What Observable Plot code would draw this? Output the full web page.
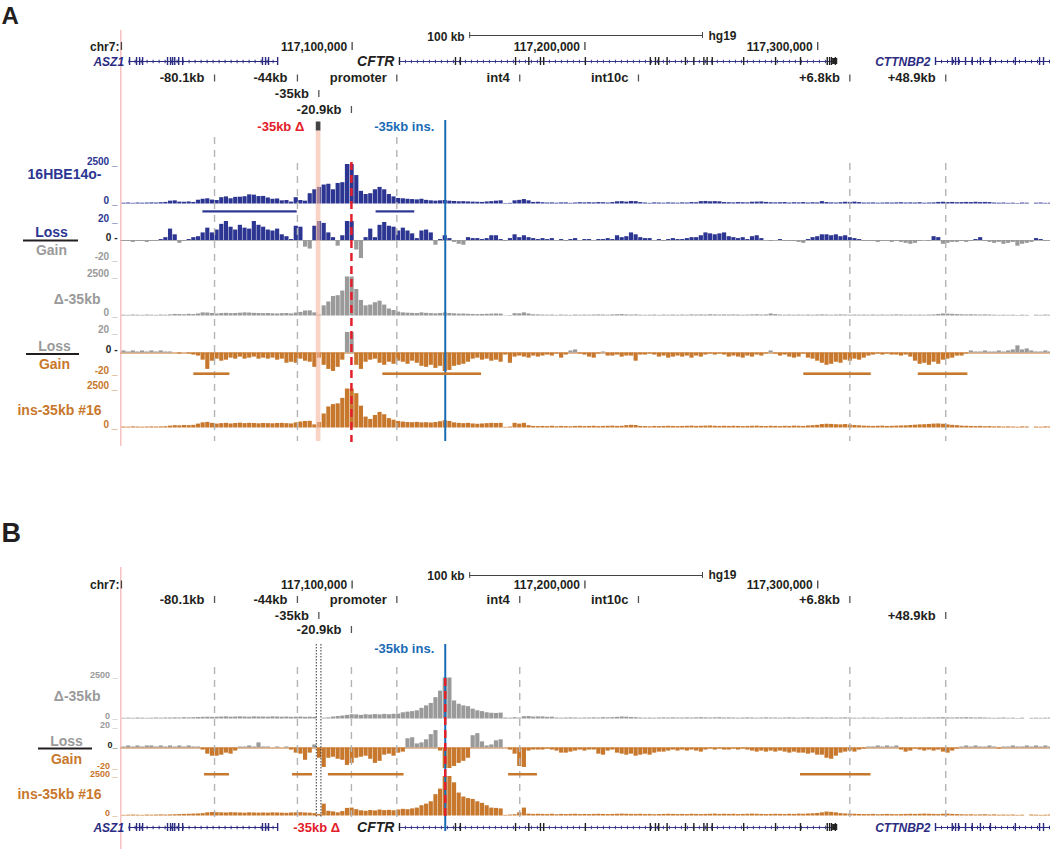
<!DOCTYPE html>
<html><head><meta charset="utf-8">
<script src="https://cdn.jsdelivr.net/npm/d3@7"></script>
<script src="https://cdn.jsdelivr.net/npm/@observablehq/plot@0.6"></script>
<style>
body{margin:0;background:#fff;}
#root{position:relative;width:1050px;height:849px;overflow:hidden;background:#fff;}
#root svg{position:absolute;left:0;}
</style></head><body><div id="root"></div>
<script>
// ---------------- DATA ----------------
const binStartKb = 117001;   // first 2 kb bin (chr7, hg19, in kb)
const binKb = 2;

// Panel A tracks
const hbeSignal = [
50,60,40,60,50,60,70,60,80,100,
180,200,120,110,130,100,240,300,330,250,
220,400,450,330,420,430,460,580,560,470,
480,380,300,320,200,220,120,400,220,180,
650,900,1050,1200,1250,900,1300,1350,2500,2500,
1800,800,600,650,900,1050,900,600,450,350,
330,300,280,260,300,230,200,180,200,220,
180,160,140,150,130,120,110,100,130,150,
180,200,30,40,200,230,280,200,100,110,
80,60,70,50,70,70,40,60,80,70,
80,70,90,80,60,90,140,150,120,160,
150,90,60,40,70,60,50,70,60,50,
70,60,90,80,150,160,140,150,140,90,
80,70,90,80,70,110,120,130,100,80,
70,80,90,60,80,70,90,60,80,70,
150,90,70,60,80,110,100,120,90,60,
60,70,50,60,70,60,70,80,60,70,
60,80,50,60,70,100,110,90,100,80,
90,100,90,110,90,100,90,60,50,60,
40,50,30,60,50,0,50,60,40,50];
const hbeDiff = [
-1,-1,-2,-1,-1,-2,-1,-1,1,3,
12,6,-3,-1,1,3,4,8,13,8,
11,17,20,14,11,16,13,12,20,16,
14,11,10,12,6,4,1,15,14,-7,
-9,15,20,18,8,3,-6,5,20,20,
-10,-19,3,12,3,16,19,15,14,10,
13,10,7,2,10,11,8,-5,1,5,
2,-2,-4,-5,3,2,2,1,2,5,
5,1,-1,2,6,3,5,3,2,1,
2,1,2,0,1,-1,1,2,0,1,
1,0,1,1,2,1,5,3,4,8,
6,3,2,2,0,1,-1,1,2,1,
1,2,3,3,5,8,7,6,7,8,
4,3,2,3,1,4,5,2,0,-1,
0,1,-1,-1,-1,-2,-3,1,3,4,
6,6,5,6,4,5,3,2,1,-1,
-1,-1,-2,-1,-1,-2,-1,-2,-3,-4,
-3,-1,0,-1,4,3,-4,-3,-2,-2,
-1,-2,-1,1,3,-1,-2,-3,-2,-4,
-3,-2,-6,-4,-3,-2,2,1,-1,-1];
const delSignalA = [
50,40,60,50,40,60,50,40,60,50,
70,100,90,80,110,90,130,200,190,160,
130,160,170,150,160,180,200,190,170,160,
150,160,140,130,150,160,130,190,230,320,
330,200,60,650,900,1250,1300,1600,2500,2500,
1700,1000,650,700,850,950,700,450,350,250,
200,180,170,160,200,170,150,140,160,190,
160,140,120,130,110,100,90,100,110,120,
130,120,20,30,150,140,200,130,80,70,
60,50,60,40,60,50,40,60,50,60,
50,60,70,60,50,70,80,90,70,60,
70,50,40,50,60,40,60,50,60,50,
60,50,70,60,70,60,80,70,60,70,
60,70,60,50,60,70,80,60,70,130,
90,60,50,60,50,60,50,60,50,60,
70,60,50,60,70,60,50,60,50,60,
50,60,50,60,50,60,70,60,50,60,
50,60,50,60,70,100,130,120,110,90,
80,70,80,70,60,70,60,50,40,50,
40,50,30,50,40,0,50,40,60,50];
const delDiffA = [
2,1,2,1,2,1,2,1,2,1,
1,0,-1,0,-1,-2,-3,-7,-16,-8,
-6,-8,-7,-5,-6,-4,-6,-5,-4,-6,
-5,-6,-5,-7,-6,-10,-9,-10,-6,-8,
-9,-14,-5,-12,-16,-18,-14,-7,20,20,
-12,-16,-9,-7,-6,-10,-12,-9,-11,-8,
-9,-11,-8,-10,-13,-14,-12,-15,-13,-18,
-17,-13,-12,-11,-9,-6,-5,-7,-6,-8,
-7,-9,-2,-10,-4,-3,-4,-5,-3,-4,
-3,-2,-3,-1,-5,-2,2,3,-1,-2,
-4,-5,-1,1,-3,-3,-2,-4,-3,-3,
-8,-2,-2,-1,-2,-4,-3,-5,-4,-3,
-4,-3,-5,-3,-4,-2,-1,-2,-1,-2,
-4,-3,-4,-5,-3,-4,-2,-3,-1,2,
-1,-3,-2,-4,-5,-4,-1,-5,-6,-8,
-10,-12,-11,-9,-10,-7,-8,-6,-7,-5,
-3,-2,-1,-2,-1,-2,-2,-3,-2,-4,
-8,-11,-10,-12,-9,-11,-7,-6,-5,-3,
-3,-1,2,1,1,2,1,1,2,1,
2,3,7,3,4,2,1,1,2,1];
const insSignalA = [
60,50,70,60,50,60,70,60,70,80,
120,150,140,160,150,170,250,330,360,300,
250,280,300,260,290,310,280,300,290,270,
290,280,270,290,300,280,260,330,380,420,
430,200,350,900,1350,1500,1550,1900,2500,2500,
2200,1400,700,550,800,1000,850,600,500,420,
380,350,340,360,330,340,320,350,400,460,
420,330,300,280,300,260,240,260,280,300,
290,300,40,60,300,250,300,150,100,90,
100,90,110,80,100,90,80,100,110,90,
100,110,90,100,110,120,100,110,150,170,
160,100,90,80,100,90,100,110,100,90,
100,110,120,100,110,120,130,110,100,110,
100,110,100,90,100,110,120,100,90,110,
100,90,110,100,120,110,100,130,150,170,
220,240,230,210,200,220,190,160,140,120,
110,100,110,120,100,110,120,130,140,160,
180,200,210,230,250,260,240,200,170,150,
120,110,100,90,100,80,90,70,80,60,
70,60,50,70,60,0,60,50,70,60];

// Panel B tracks
const delSignalB = [
40,50,40,60,50,40,50,60,50,60,
60,70,60,80,70,80,90,100,110,100,
110,120,130,110,120,130,120,110,130,120,
120,110,130,120,110,120,100,110,120,100,
110,100,0,50,70,120,150,180,220,260,
250,220,260,240,270,250,280,260,290,300,
380,420,450,500,650,800,950,1300,1700,2500,
2500,1100,900,800,750,600,500,450,380,350,
340,360,60,50,80,60,140,150,120,130,
130,100,110,60,50,60,70,60,50,60,
60,70,60,80,70,80,100,120,110,90,
80,60,50,60,50,60,70,60,70,60,
60,70,60,70,80,70,60,70,80,60,
70,60,50,60,70,60,50,60,70,60,
60,50,60,70,60,50,60,70,60,50,
60,70,60,50,60,70,60,50,40,60,
50,60,50,40,60,50,60,70,50,60,
60,50,60,70,60,70,80,70,60,70,
70,80,70,60,70,60,50,40,50,60,
40,50,30,50,0,40,50,40,50,60];
const delDiffB = [
1,2,1,2,1,2,2,1,2,1,
2,1,2,1,2,1,1,-2,-6,-8,
-8,-7,-5,-6,-3,1,1,2,1,5,
1,1,0,1,0,1,-2,-5,-6,-12,
-5,3,-10,-19,-10,-9,-11,-12,-17,-15,
-10,-9,-8,-11,-15,-13,-7,-6,-8,-5,
-4,9,10,4,5,8,13,17,-3,-20,
-20,-18,-15,-13,-10,12,14,6,2,3,
7,8,0,-2,-6,-18,-19,-3,-2,-2,
-2,-1,-2,-3,-5,-5,-4,-3,-2,-3,
-2,-2,-6,-7,-3,-2,-5,-6,-7,-6,
-8,-7,-6,-7,-5,-4,-4,-3,-2,-3,
-2,-3,-2,-3,-4,-2,-1,-2,-1,-2,
-2,-1,-2,-1,-2,-3,-4,-3,-4,-3,
-4,-3,-4,-5,-4,-5,-5,-6,-5,-7,
-7,-10,-11,-8,-5,-4,-3,-4,-2,-1,
1,1,2,1,2,1,2,-2,-4,-3,
-1,-2,-3,-2,-3,-2,-4,-5,-3,-1,
1,2,1,2,1,1,2,1,-1,1,
1,2,1,1,2,1,2,1,2,1];
const insSignalB = [
40,50,60,50,40,60,50,60,70,60,
70,80,90,100,110,120,130,150,200,220,
210,200,190,210,200,190,180,200,190,180,
190,180,200,190,180,170,190,200,210,190,
180,150,100,750,300,260,200,280,480,500,
400,330,300,350,320,380,340,360,330,380,
420,400,450,500,650,750,900,1350,1700,2500,
2500,2100,1450,1200,1100,1050,900,800,650,500,
480,450,40,60,80,200,500,120,100,110,
100,90,110,80,100,90,100,110,90,100,
90,100,110,100,90,100,110,120,110,100,
100,110,90,100,80,90,100,110,100,90,
100,90,110,100,90,100,110,120,100,110,
100,110,90,100,110,120,110,100,90,100,
110,100,90,110,100,120,110,130,140,160,
200,250,230,200,150,130,120,110,100,90,
90,100,80,90,100,90,80,90,100,110,
100,110,120,110,100,90,110,120,100,90,
80,70,80,60,70,80,60,70,50,60,
50,60,40,50,0,60,50,40,50,60];

// Annotations (kb, hg19 chr7)
const elementNames = ["-80.1kb","-44kb","-35kb","-20.9kb","promoter","int4","int10c","+6.8kb","+48.9kb"];
const elementKb = [117040.9,117076.5,117085.7,117099.7,117119.2,117172.0,117223.0,117313.8,117355.0];
const coordTickKb = [117100,117200,117300];
const coordTickLabels = ["117,100,000","117,200,000","117,300,000"];
const chromName = "chr7:";
const scaleBarStartKb = 117150.5;
const scaleBarKb = 100;
const assemblyName = "hg19";
const deletionKb = [117084.6, 117086.6];
const insertionKb = 117140;
const hbeRegionStartKb = [117035.9, 117110.3];
const hbeRegionEndKb = [117076.4, 117126.9];
const insRegionAStartKb = [117032.0, 117113.2, 117294.0, 117343.2];
const insRegionAEndKb = [117047.5, 117155.6, 117323.0, 117364.5];
const insRegionBStartKb = [117036.6, 117074.4, 117089.8, 117167.2, 117292.6];
const insRegionBEndKb = [117047.3, 117083.0, 117122.3, 117179.6, 117322.9];
const geneNames = ["ASZ1","CFTR","CTTNBP2"];
const geneStartKb = [117004.2, 117120.3, 117350.6];
const geneEndKb = [117068.1, 117308.0, 117402];
const asz1ExonKb = [117004.4,117007.4,117008.7,117010.0,117020.7,117022.0,117022.9,117023.8,117025.5,117027.2,117061.5,117062.8,117064.1,117068.0];
const cftrExonKb = [117120.35,117144.4,117146.5,117170.2,117175.9,117180.9,117182.3,117200.2,117228.1,117230.3,117231.7,117235.3,117243.2,117246.8,117251.1,117252.5,117254.7,117268.2,117281.9,117292.6,117304.1,117305.1,117305.9,117307.6];
const cttnbp2ExonKb = [117350.6,117357.8,117359.2,117360.5,117363.5,117366.4,117369.9,117374.2,117384.9,117395.3,117397.0];

// ---------------- STYLE / LAYOUT ----------------
const FONT = "'Liberation Sans', Arial, Helvetica, sans-serif";
const ink = "#231f20", navy = "#2c3591", gray = "#9a9a9a", orange = "#c8782c",
      blue = "#1a6bb6", red = "#e3202a", geneNavy = "#2b2b82", dash = "#b4b4b4";
const X = {domain: [117000.5, 117400], range: [120, 1050]};
const root = document.getElementById("root");
function place(svg, top) { svg.style.top = top + "px"; root.appendChild(svg); }

function track(o) {
  const data = o.values.map((v, i) => ({x1: binStartKb + i * binKb, x2: binStartKb + (i + 1) * binKb, v}));
  const marks = [];
  if (o.zeroLine) marks.push(Plot.ruleY([0], {stroke: o.zeroLine, strokeWidth: 1}));
  marks.push(Plot.rect(data, {x1: "x1", x2: "x2", y1: 0, y2: "v",
    fill: d => d.v >= 0 ? o.pos : o.neg, insetLeft: 0.25, insetRight: 0.25}));
  marks.push(Plot.text(o.ticks, {y: d => d, text: (d, i) => o.tickText[i], fill: (d, i) => o.tickColor[i],
    frameAnchor: "left", textAnchor: "end", dx: -3, lineAnchor: "bottom", fontSize: o.tickFont || 10, fontWeight: "bold"}));
  const svg = Plot.plot({
    width: 1050, height: o.bottom - o.top,
    marginLeft: 120, marginRight: 0, marginTop: 0, marginBottom: 0,
    x: {...X, axis: null},
    y: {domain: o.domain, range: o.range.map(p => p - o.top), axis: null},
    color: {type: "identity"},
    style: {background: "transparent", fontFamily: FONT, overflow: "visible"},
    marks
  });
  place(svg, o.top);
}

// Panel A tracks
track({top: 140, bottom: 207, values: hbeSignal, domain: [0, 2500], range: [203.5, 164], pos: navy, neg: gray,
  ticks: [2500, 0], tickText: ["2500 _", "0 _"], tickColor: [navy, navy]});
track({top: 207, bottom: 264, values: hbeDiff, domain: [-20, 20], range: [259, 221], pos: navy, neg: gray, zeroLine: "#b0b0b0",
  ticks: [20, 0, -20], tickText: ["20 _", "0 -", "-20 _"], tickColor: [navy, ink, gray]});
track({top: 264, bottom: 320, values: delSignalA, domain: [0, 2500], range: [315.5, 276.5], pos: gray, neg: gray,
  ticks: [2500, 0], tickText: ["2500 _", "0 _"], tickColor: [gray, gray]});
track({top: 320, bottom: 380, values: delDiffA, domain: [-20, 20], range: [373, 332], pos: gray, neg: orange, zeroLine: orange,
  ticks: [20, 0, -20], tickText: ["20 _", "0 -", "-20 _"], tickColor: [gray, ink, orange]});
track({top: 380, bottom: 432, values: insSignalA, domain: [0, 2500], range: [427.5, 388.5], pos: orange, neg: orange,
  ticks: [2500, 0], tickText: ["2500 _", "0 _"], tickColor: [orange, orange]});
// Panel B tracks (tighter axis labels, as in the reference)
track({top: 660, bottom: 722, values: delSignalB, domain: [0, 2500], range: [718.5, 677.5], pos: gray, neg: gray, tickFont: 9,
  ticks: [2500, 0], tickText: ["2500 _", "0 _"], tickColor: [gray, gray]});
track({top: 722, bottom: 772, values: delDiffB, domain: [-20, 20], range: [768, 727], pos: gray, neg: orange, zeroLine: orange, tickFont: 9,
  ticks: [20, 0, -20], tickText: ["20 _", "0_", "-20 _"], tickColor: [gray, ink, orange]});
track({top: 770, bottom: 820, values: insSignalB, domain: [0, 2500], range: [815.5, 776], pos: orange, neg: orange, tickFont: 9,
  ticks: [2500, 0], tickText: ["2500 _", "0 _"], tickColor: [orange, orange]});

// ---------------- OVERLAY (headers, annotations, vertical guides) ----------------
const txt = (extra) => ({lineAnchor: "bottom", fontWeight: "bold", fontSize: 13, fill: ink, ...extra});

function header(L) {
  const m = [];
  const sb2 = scaleBarStartKb + scaleBarKb;
  m.push(Plot.ruleY([L.scaleY], {x1: scaleBarStartKb, x2: sb2, stroke: "#444", strokeWidth: 1}));
  m.push(Plot.ruleX([scaleBarStartKb, sb2], {y1: L.scaleY - 3, y2: L.scaleY + 3, stroke: "#444", strokeWidth: 1}));
  m.push(Plot.text([`${scaleBarKb} kb`], {x: scaleBarStartKb, y: L.scaleText, textAnchor: "end", dx: -5, ...txt({fontSize: 12})}));
  m.push(Plot.text([assemblyName], {x: sb2, y: L.hgText, textAnchor: "start", dx: 6, ...txt({fontSize: 12})}));
  m.push(Plot.ruleX([117000.9, ...coordTickKb], {y1: L.coordY - 8, y2: L.coordY, stroke: "#444", strokeWidth: 1.3}));
  m.push(Plot.text(coordTickKb, {x: d => d, y: L.coordY, text: (d, i) => coordTickLabels[i], textAnchor: "end", dx: -5, ...txt({fontSize: 12})}));
  m.push(Plot.text([chromName], {x: 117000.9, y: L.coordY, textAnchor: "end", dx: -2, ...txt({fontSize: 12})}));
  const rowY = i => L.elRows[L.elRow[i]];
  m.push(Plot.text(elementNames, {x: (d, i) => elementKb[i], y: (d, i) => rowY(i), text: d => d, textAnchor: "end", dx: -10, ...txt({})}));
  m.push(Plot.ruleX(elementKb, {x: d => d, y1: (d, i) => rowY(i) - 7, y2: (d, i) => rowY(i), stroke: "#555", strokeWidth: 1.3}));
  return m;
}

function genes(L) {
  const m = [];
  const exons = [asz1ExonKb, cftrExonKb, cttnbp2ExonKb];
  const lineColor = [geneNavy, "#3b3b8e", geneNavy];
  const exonColor = [geneNavy, "#222", geneNavy];
  const labelColor = [geneNavy, ink, geneNavy];
  const labelSize = [12, 14, 12];
  geneNames.forEach((g, k) => {
    m.push(Plot.ruleY([L.geneY], {x1: geneStartKb[k], x2: geneEndKb[k], stroke: lineColor[k], strokeWidth: 1}));
    m.push(Plot.ruleY([L.geneY], {x1: geneStartKb[k], x2: geneEndKb[k], stroke: lineColor[k], strokeWidth: 3.5, strokeDasharray: "1,5"}));
    m.push(Plot.ruleX(exons[k], {x: d => d, y1: L.geneY - 4, y2: L.geneY + 4, stroke: exonColor[k], strokeWidth: 1.4}));
    m.push(Plot.text([g], {x: geneStartKb[k], y: L.geneText, textAnchor: "end", dx: -5, fontStyle: "italic", ...txt({fontSize: labelSize[k], fill: labelColor[k]})}));
  });
  m.push(Plot.rect([0], {x1: cftrExonKb[cftrExonKb.length - 1] - 1.2, x2: geneEndKb[1] + 0.6, y1: L.geneY - 3, y2: L.geneY + 3, fill: "#222"}));
  return m;
}

const regions = (starts, ends, y1, y2, fill) =>
  Plot.rect(starts, {x1: d => d, x2: (d, i) => ends[i], y1, y2, fill});
const guides = (kbs, y1, y2, opts) => Plot.ruleX(kbs, {x: d => d, y1, y2, ...opts});
const dashedGray = {stroke: dash, strokeWidth: 1.4, strokeDasharray: "7,6"};
const E = i => elementKb[i];

const LA = {scaleY: 35, scaleText: 40.5, hgText: 39, coordY: 50, elRows: [81.5, 97, 113], elRow: [0, 0, 1, 2, 0, 0, 0, 0, 0], geneY: 61, geneText: 65.5};
const LB = {scaleY: 575, scaleText: 579.5, hgText: 578.5, coordY: 588.5, elRows: [603, 619, 633], elRow: [0, 0, 1, 2, 0, 0, 0, 0, 1], geneY: 827, geneText: 831.5};

const overlayMarks = [
  // panel letters
  Plot.text(["A"], {y: 23, frameAnchor: "left", dx: 1, ...txt({fontSize: 24})}),
  Plot.text(["B"], {y: 541.5, frameAnchor: "left", dx: 1, ...txt({fontSize: 27})}),
  // left window edge
  guides([117000.65], 30, 446, {stroke: "#f2a3a3", strokeWidth: 1}),
  guides([117000.65], 567, 849, {stroke: "#f2a3a3", strokeWidth: 1}),

  // ===== Panel A =====
  ...header(LA),
  ...genes(LA),
  Plot.rect([0], {x1: deletionKb[0], x2: deletionKb[1], y1: 130.5, y2: 441, fill: "#f3b6a0", fillOpacity: 0.6}),
  Plot.rect([0], {x1: deletionKb[0], x2: deletionKb[1], y1: 121.5, y2: 130.5, fill: "#444"}),
  Plot.text(["-35kb \u0394"], {x: deletionKb[0], y: 130, textAnchor: "end", dx: -12, ...txt({fill: red})}),
  Plot.text(["-35kb ins."], {x: insertionKb, y: 130, textAnchor: "end", dx: -11, ...txt({fill: blue})}),
  guides([E(0), E(4)], 137, 441, dashedGray),
  guides([E(1), E(7), E(8)], 163, 441, dashedGray),
  guides([insertionKb], 120, 441, {stroke: blue, strokeWidth: 2}),
  guides([E(3)], 162, 442, {stroke: red, strokeWidth: 2.5, strokeDasharray: "8,5"}),
  regions(hbeRegionStartKb, hbeRegionEndKb, 210.3, 212.5, navy),
  regions(insRegionAStartKb, insRegionAEndKb, 372.4, 375, orange),
  Plot.text(["16HBE14o-"], {y: 178, frameAnchor: "left", dx: 101, textAnchor: "end", ...txt({fontSize: 14, fill: navy})}),
  Plot.text(["Loss"], {y: 236.5, frameAnchor: "left", dx: 51, textAnchor: "middle", ...txt({fontSize: 14, fill: navy})}),
  Plot.ruleY([240], {insetLeft: 23, insetRight: 1050 - 78, stroke: ink, strokeWidth: 2}),
  Plot.text(["Gain"], {y: 254.5, frameAnchor: "left", dx: 51, textAnchor: "middle", ...txt({fontSize: 14, fill: gray})}),
  Plot.text(["\u0394-35kb"], {y: 303, frameAnchor: "left", dx: 100, textAnchor: "end", ...txt({fontSize: 14, fill: gray})}),
  Plot.text(["Loss"], {y: 350, frameAnchor: "left", dx: 54, textAnchor: "middle", ...txt({fontSize: 14, fill: gray})}),
  Plot.ruleY([353.5], {insetLeft: 26, insetRight: 1050 - 79, stroke: ink, strokeWidth: 2}),
  Plot.text(["Gain"], {y: 368.5, frameAnchor: "left", dx: 54, textAnchor: "middle", ...txt({fontSize: 14, fill: orange})}),
  Plot.text(["ins-35kb #16"], {y: 414, frameAnchor: "left", dx: 101, textAnchor: "end", ...txt({fontSize: 14, fill: orange})}),

  // ===== Panel B =====
  ...header(LB),
  ...genes(LB),
  guides([E(0), E(1), E(3), E(4), E(5), E(7), E(8)], 667, 820, dashedGray),
  guides(deletionKb, 644, 818, {stroke: "#333", strokeWidth: 1, strokeDasharray: "1.5,1.5"}),
  guides([insertionKb], 644, 831, {stroke: blue, strokeWidth: 2}),
  guides([insertionKb], 678, 818, {stroke: red, strokeWidth: 2.5, strokeDasharray: "8,5"}),
  Plot.text(["-35kb ins."], {x: insertionKb, y: 652.5, textAnchor: "end", dx: -11, ...txt({fill: blue})}),
  Plot.text(["-35kb \u0394"], {x: (deletionKb[0] + deletionKb[1]) / 2, y: 831.5, textAnchor: "middle", dx: -2, ...txt({fill: red})}),
  regions(insRegionBStartKb, insRegionBEndKb, 773, 775.5, orange),
  Plot.text(["\u0394-35kb"], {y: 700.5, frameAnchor: "left", dx: 100, textAnchor: "end", ...txt({fontSize: 14, fill: gray})}),
  Plot.text(["Loss"], {y: 745, frameAnchor: "left", dx: 66, textAnchor: "middle", ...txt({fontSize: 14, fill: gray})}),
  Plot.ruleY([748], {insetLeft: 38, insetRight: 1050 - 92, stroke: ink, strokeWidth: 2}),
  Plot.text(["Gain"], {y: 763, frameAnchor: "left", dx: 66, textAnchor: "middle", ...txt({fontSize: 14, fill: orange})}),
  Plot.text(["ins-35kb #16"], {y: 798, frameAnchor: "left", dx: 101, textAnchor: "end", ...txt({fontSize: 14, fill: orange})})
];

const overlay = Plot.plot({
  width: 1050, height: 849, margin: 0,
  x: {...X, axis: null},
  y: {domain: [0, 849], range: [0, 849], axis: null},
  style: {background: "transparent", fontFamily: FONT},
  marks: overlayMarks
});
place(overlay, 0);
</script>
</body></html>
